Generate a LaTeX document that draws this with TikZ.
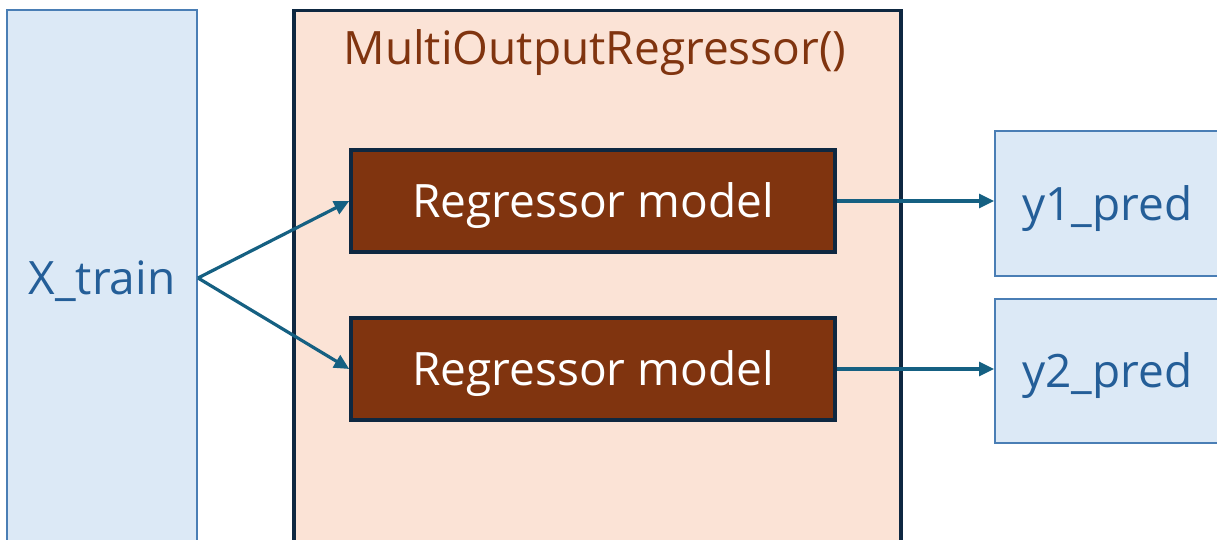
\documentclass[tikz,border=0pt]{standalone}
\usepackage{fontspec}
\setmainfont{Open Sans}
\usetikzlibrary{arrows.meta}
\definecolor{bluefill}{HTML}{DCE9F6}
\definecolor{blueedge}{HTML}{4A7EB5}
\definecolor{bluetext}{HTML}{245E98}
\definecolor{peach}{HTML}{FBE3D6}
\definecolor{navy}{HTML}{0E2841}
\definecolor{brown}{HTML}{80340F}
\definecolor{arrowc}{HTML}{156082}
\tikzset{
  databox/.style={draw=blueedge, fill=bluefill, line width=2pt, text=bluetext, inner sep=0pt,
    text height=33pt, text depth=0pt, font=\fontsize{46}{54}\selectfont},
  outerbox/.style={draw=navy, fill=peach, line width=3.5pt, inner sep=0pt},
  modelbox/.style={draw=navy, fill=brown, line width=3.5pt, text=white, inner sep=0pt,
    text height=33pt, text depth=0pt,
    minimum width=484pt, minimum height=102pt, font=\fontsize{46}{54}\selectfont},
  titletext/.style={text=brown, inner sep=0pt, font=\fontsize{46}{54}\selectfont},
  flow/.style={draw=arrowc, line width=3.2pt, -{Triangle[length=15pt,width=14pt]}}
}
\begin{document}
\begin{tikzpicture}[x=1pt,y=-1pt]
\useasboundingbox (0,0) rectangle (1217,540);
\clip (0,0) rectangle (1217,540);
\fill[white] (0,0) rectangle (1217,540);
\node[databox, minimum width=190pt, minimum height=536pt] (xtrain) at (102,278) {X\_train};
\node[outerbox, minimum width=607pt, minimum height=560pt, anchor=north west] (multi) at (292,9) {};
\node[titletext, anchor=base] (title) at (595,65) {MultiOutputRegressor()};
\node[modelbox] (reg1) at (593,201) {Regressor model};
\node[modelbox] (reg2) at (593,369) {Regressor model};
\node[databox, minimum width=225pt, minimum height=145pt] (y1) at (1107.5,203.5) {y1\_pred};
\node[databox, minimum width=225pt, minimum height=144pt] (y2) at (1107.5,371) {y2\_pred};
\draw[flow] (xtrain.east) -- (reg1.west);
\draw[flow] (xtrain.east) -- (reg2.west);
\draw[flow] (reg1.east) -- (reg1.east -| y1.west);
\draw[flow] (reg2.east) -- (reg2.east -| y2.west);
\end{tikzpicture}
\end{document}
